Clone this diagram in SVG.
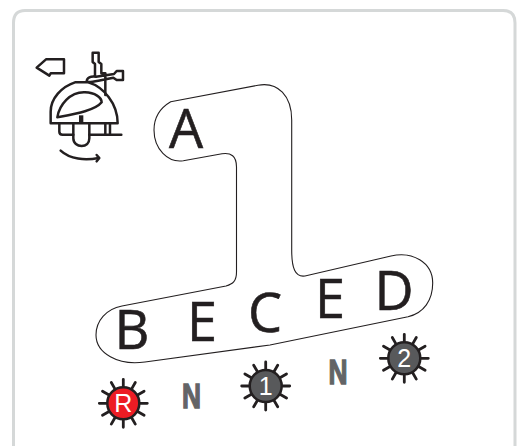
<svg xmlns="http://www.w3.org/2000/svg" width="520" height="446" viewBox="0 0 520 446">
<style>
.ln{fill:none;stroke:#231f20;stroke-linecap:round;stroke-linejoin:round}
.ic{stroke-width:7.500}
.big{font-family:"Open Sans",sans-serif;font-size:54px;fill:#231f20;stroke:#231f20;stroke-width:.6;text-anchor:middle}
.n{font-family:"Liberation Sans",sans-serif;font-weight:700;font-size:35px;fill:#636466;stroke:#636466;stroke-width:1.400}
.num{font-family:"Liberation Sans",sans-serif;font-size:25px;fill:#fff;text-anchor:middle}
.ray{stroke:#231f20;stroke-width:2.800;stroke-linecap:round}
</style>
<defs>
<g id="rays">
<path class="ray" d="M0-17V-24M0 17V24M-17 0H-24M17 0H24M8.500-14.700L12-20.800M-8.500-14.700L-12-20.800M8.500 14.700L12 20.800M-8.500 14.700L-12 20.800M14.700-8.500L20.800-12M-14.700-8.500L-20.800-12M14.700 8.500L20.800 12M-14.700 8.500L-20.800 12"/>
</g>
</defs>
<rect width="520" height="446" fill="#fff"/>
<path id="frame" d="M13.500 446V23Q13.500 10.500 25 10.500H503Q515 10.500 515 23V446" fill="none" stroke="#d5d8d8" stroke-width="3"/>
<g id="connectors">
<path id="outline" fill="none" stroke="#231f20" stroke-width="1.100" d="M170.700 101.700L258 85.200C278 81.500 291.700 96 291.700 120V250C291.700 268 295 277.500 305 276L391 256C412 251 432.700 262 432.700 283C432.700 300 424 313 408 316.700L270 345L145 362C118 366 96 353 96 335C96 321 106 309 122 306L226 286C233 284 236.500 281 236.500 272V167C236.500 156 231 152.500 222 153.800L183.300 160.700C168 163 154 149 154 130C154 118 160 108 170.700 101.700Z"/>
</g>
<g id="icon" transform="translate(20 40) scale(.3333)">
<path class="ln ic" d="M50 83L78 58H132V100H92L88 107Z"/>
<path class="ln ic" d="M92 250V215C92 175 125 140 165 127H205C250 140 293 190 293 250Z"/>
<path class="ln ic" d="M112 232C118 195 150 155 195 157C225 158 245 172 245 187C225 212 165 222 112 232Z"/>
<path class="ln ic" d="M218 38H236V66L244 72V100H256V165M218 38V66L225 72V108M200 125C200 112 212 108 228 110L282 102L290 93H309V120H290L280 113L235 122C220 125 205 127 200 125ZM256 250V282M270 250V282M118 250V275C118 282 122 284 128 284H160M208 284H304"/>
<path class="ln ic" d="M160 250V295C160 310 172 318 185 318C198 318 208 310 208 295V250"/>
<rect x="177" y="226" width="13" height="24" fill="#231f20"/>
<path class="ln ic" d="M122 332C150 358 195 362 236 354"/>
<path class="ln ic" d="M230 345L238 354L230 364"/>
</g>
<g id="A"><text class="big" x="186" y="148">A</text></g>
<g id="B"><text class="big" x="132" y="349">B</text></g>
<g id="E1"><text class="big" x="202" y="341">E</text></g>
<g id="C"><text class="big" x="265" y="332">C</text></g>
<g id="E2"><text class="big" x="330" y="318">E</text></g>
<g id="D"><text class="big" x="394" y="310">D</text></g>
<g id="R-light" transform="translate(123.300 403.300)">
<use href="#rays"/><circle r="16" fill="#ed1c24" stroke="#231f20" stroke-width="2.500"/><text class="num" y="9">R</text>
</g>
<g id="N1"><text class="n" x="182" y="407.500" textLength="19" lengthAdjust="spacingAndGlyphs">N</text></g>
<g id="light-1" transform="translate(265.700 386)">
<use href="#rays"/><circle r="16" fill="#58595b" stroke="#231f20" stroke-width="2.500"/><text class="num" y="9">1</text>
</g>
<g id="N2"><text class="n" x="328.500" y="383.500" textLength="19" lengthAdjust="spacingAndGlyphs">N</text></g>
<g id="light-2" transform="translate(404.300 358.300)">
<use href="#rays"/><circle r="16" fill="#58595b" stroke="#231f20" stroke-width="2.500"/><text class="num" y="9">2</text>
</g>
</svg>
